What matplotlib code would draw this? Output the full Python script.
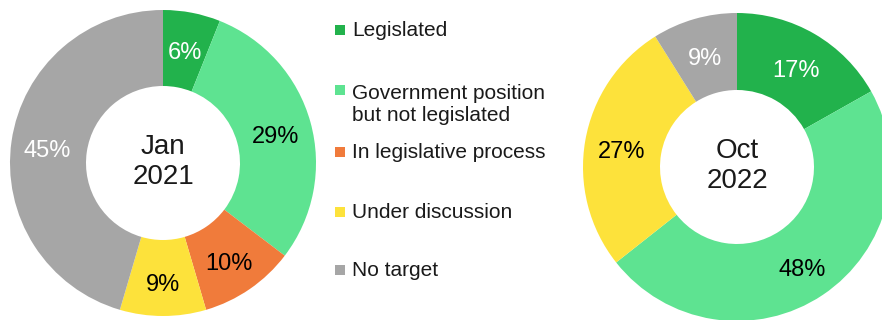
import matplotlib
matplotlib.use("Agg")
import matplotlib.pyplot as plt
import numpy as np
from matplotlib.patches import Rectangle

plt.rcParams['font.family'] = ['Liberation Sans', 'DejaVu Sans']

categories = ["Legislated", "Government position\nbut not legislated",
              "In legislative process", "Under discussion", "No target"]
colors = ["#22b24c", "#5ee391", "#f07b3b", "#fde23b", "#a6a6a6"]
label_colors = ["white", "black", "black", "black", "white"]

jan2021 = [6, 29, 10, 9, 45]
oct2022 = [17, 48, 0, 27, 9]
titles = ["Jan\n2021", "Oct\n2022"]

W, H = 882, 320
fig = plt.figure(figsize=(W / 100, H / 100), dpi=100)
ax = fig.add_axes([0, 0, 1, 1])

donuts = [
    (jan2021, (163, H - 163), 153, 76, titles[0]),
    (oct2022, (737, H - 167), 154, 77, titles[1]),
]

for values, center, radius, width, title in donuts:
    wedges, _ = ax.pie(values, colors=colors, startangle=90, counterclock=False,
                       center=center, radius=radius,
                       wedgeprops=dict(width=width, linewidth=0))
    r_lab = radius - width / 2 + 2
    for w, v, tc in zip(wedges, values, label_colors):
        if v <= 0:
            continue
        ang = np.deg2rad((w.theta1 + w.theta2) / 2)
        x = center[0] + r_lab * np.cos(ang)
        y = center[1] + r_lab * np.sin(ang) - 5
        ax.text(x, y, f"{v}%", ha='center', va='center', fontsize=17, color=tc)
    ax.text(center[0], center[1] + 1, title, ha='center', va='center',
            fontsize=20, color='#1a1a1a', linespacing=1.2)

# legend
marker_y = [30, 90, 152, 212, 270]
sq = 10
line_px = 15 * 1.2 * 100 / 72
for cat, col, my in zip(categories, colors, marker_y):
    ax.add_patch(Rectangle((335, H - my - sq / 2), sq, sq,
                           facecolor=col, edgecolor='none'))
    nextra = cat.count('\n')
    ax.text(352, H - (my + 6 + nextra * line_px), cat, ha='left', va='baseline',
            fontsize=15, color='#1a1a1a', linespacing=1.2)

ax.set_xlim(0, W)
ax.set_ylim(0, H)
ax.set_aspect('equal')
ax.axis('off')

fig.savefig("out.png", dpi=100)
